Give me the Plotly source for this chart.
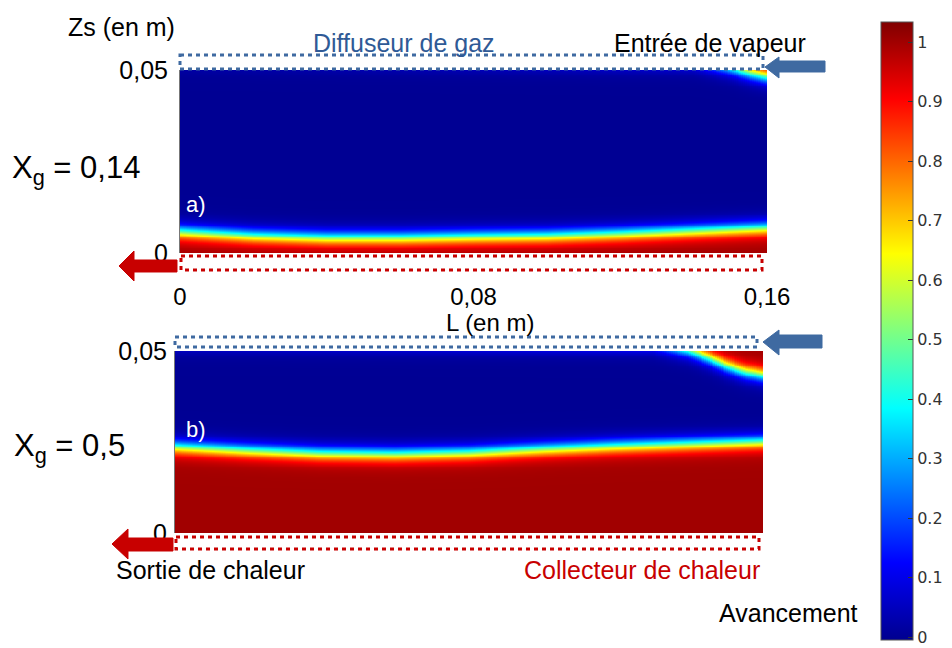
import numpy as np
import plotly.graph_objects as go

# ---------------- data ----------------
L_samples = [0.0, 0.02, 0.04, 0.06, 0.08, 0.10, 0.12, 0.14, 0.16]          # m
# height (m) of the reaction front (Avancement = 0.5) above the heat collector
front_a = [0.0057, 0.0046, 0.0041, 0.0041, 0.0044, 0.0046, 0.0052, 0.0060, 0.0068]
front_b = [0.0236, 0.0226, 0.0218, 0.0216, 0.0220, 0.0230, 0.0238, 0.0244, 0.0250]
# front coming from the vapour inlet (top right corner)
Ltop_a = [0.0, 0.14, 0.15, 0.155, 0.16]
ztop_a = [0.0545, 0.0530, 0.0508, 0.0493, 0.0482]
Ltop_b = [0.0, 0.13, 0.14, 0.145, 0.15, 0.155, 0.16]
ztop_b = [0.0535, 0.0525, 0.0502, 0.0482, 0.0460, 0.0443, 0.0434]
front_width = 0.0012   # m, thickness of the reaction zone

x_tick_vals = [0.0, 0.08, 0.16]
x_tick_labels = ["0", "0,08", "0,16"]
y_tick_vals = [0.0, 0.05]
y_tick_labels = ["0", "0,05"]
cb_tick_vals = [0, 0.1, 0.2, 0.3, 0.4, 0.5, 0.6, 0.7, 0.8, 0.9, 1]
cb_tick_labels = ["0", "0.1", "0.2", "0.3", "0.4", "0.5", "0.6", "0.7", "0.8", "0.9", "1"]

# ---------------- field built from the read fronts ----------------
NX, NY = 320, 200
Lc = (np.arange(NX) + 0.5) * 0.16 / NX
Zc = (np.arange(NY) + 0.5) * 0.05 / NY


def field(front, Ltop, ztop):
    zb = np.interp(Lc, L_samples, front)
    zt = np.interp(Lc, Ltop, ztop)
    Z = Zc[:, None]
    a = 1.0 / (1.0 + np.exp((Z - zb[None, :]) / front_width))
    b = 1.0 / (1.0 + np.exp((zt[None, :] - Z) / front_width))
    return np.maximum(a, b)


za = field(front_a, Ltop_a, ztop_a)
zb = field(front_b, Ltop_b, ztop_b)

W, H = 952, 648


def PX(x):
    return x / W


def PY(y):
    return 1 - y / H


jet = [[0, "#00008f"], [0.125, "#0000ff"], [0.375, "#00ffff"],
       [0.625, "#ffff00"], [0.875, "#ff0000"], [1, "#800000"]]

fig = go.Figure()
fig.add_trace(go.Heatmap(x=Lc, y=Zc, z=za, coloraxis="coloraxis",
                         xaxis="x", yaxis="y", hoverinfo="skip"))
fig.add_trace(go.Heatmap(x=Lc, y=Zc, z=zb, coloraxis="coloraxis",
                         xaxis="x2", yaxis="y2", hoverinfo="skip"))

FONT = "Liberation Sans, Arial, sans-serif"
tickfont = dict(family=FONT, size=25, color="black")
xtickfont = dict(family=FONT, size=24, color="black")

fig.update_layout(
    width=W, height=H,
    margin=dict(l=0, r=0, t=0, b=0, autoexpand=False),
    paper_bgcolor="white", plot_bgcolor="white",
    showlegend=False,
    xaxis=dict(domain=[PX(180), PX(767)], range=[0, 0.16], anchor="y",
               tickvals=x_tick_vals, ticktext=x_tick_labels, tickfont=xtickfont,
               showgrid=False, zeroline=False, ticks="", ticklabelstandoff=27,
               automargin=False),
    yaxis=dict(domain=[PY(253), PY(70)], range=[0, 0.05], anchor="x",
               tickvals=y_tick_vals, ticktext=y_tick_labels, tickfont=tickfont,
               showgrid=False, zeroline=False, ticks="", ticklabelstandoff=6,
               showline=True, linecolor="#777", linewidth=1, automargin=False),
    xaxis2=dict(domain=[PX(175), PX(763)], range=[0, 0.16], anchor="y2",
                showticklabels=False, showgrid=False, zeroline=False, ticks="",
                automargin=False),
    yaxis2=dict(domain=[PY(533), PY(351)], range=[0, 0.05], anchor="x2",
                tickvals=y_tick_vals, ticktext=y_tick_labels, tickfont=tickfont,
                showgrid=False, zeroline=False, ticks="", ticklabelstandoff=2,
                showline=True, linecolor="#777", linewidth=1, automargin=False),
    coloraxis=dict(
        colorscale=jet, cmin=-0.005, cmax=1.034,
        colorbar=dict(
            x=PX(881), xanchor="left", xpad=0, ypad=0,
            y=PY(331), yanchor="middle",
            thickness=32, thicknessmode="pixels",
            len=618, lenmode="pixels",
            outlinewidth=1, outlinecolor="#555",
            ticks="inside", ticklen=5, tickcolor="#333", tickwidth=1,
            tickvals=cb_tick_vals, ticktext=cb_tick_labels,
            tickfont=dict(family="DejaVu Sans", size=16, color="#333"),
        ),
    ),
)

BLUE = "#3f6aa1"
RED = "#c80000"


def text(t, x, y, size=25, color="black", xanchor="center"):
    fig.add_annotation(text=t, x=PX(x), y=PY(y), xref="paper", yref="paper",
                       xanchor=xanchor, yanchor="middle", showarrow=False,
                       font=dict(family=FONT, size=size, color=color))


text("Zs (en m)", 121, 27)
text("Diffuseur de gaz", 404, 43, color="#2f5a96")
text("Entrée de vapeur", 710, 43)
text("X<sub>g</sub> = 0,14", 76, 170, size=31)
text("a)", 196, 205, size=22, color="white")
text("L (en m)", 490, 322, size=24)
text("X<sub>g</sub> = 0,5", 69, 448, size=31)
text("b)", 196, 430, size=22, color="white")
text("Sortie de chaleur", 210, 570)
text("Collecteur de chaleur", 642, 570, color=RED)
text("Avancement", 788, 613)


def rect(x0, y0, x1, y1, color):
    fig.add_shape(type="rect", xref="paper", yref="paper",
                  x0=PX(x0), x1=PX(x1), y0=PY(y0), y1=PY(y1),
                  line=dict(color=color, width=3, dash="4px,4px"),
                  fillcolor="rgba(0,0,0,0)")


rect(180, 55, 763, 69, BLUE)
rect(181, 256, 762, 270, RED)
rect(175, 337, 757, 347, BLUE)
rect(176, 537, 759, 549, RED)


def arrow(tip_x, tip_y, base_x, tail_x, head_top, head_bot, sh_top, sh_bot, color):
    pts = [(tip_x, tip_y), (base_x, head_top), (base_x, sh_top), (tail_x, sh_top),
           (tail_x, sh_bot), (base_x, sh_bot), (base_x, head_bot)]
    path = "M " + " L ".join(f"{PX(a):.5f},{PY(b):.5f}" for a, b in pts) + " Z"
    fig.add_shape(type="path", path=path, xref="paper", yref="paper",
                  fillcolor=color, line=dict(color=color, width=1))


arrow(765, 67, 779, 825, 57, 78, 61, 72, BLUE)
arrow(763, 342, 779, 822, 330, 355, 335, 348, BLUE)
arrow(119, 266, 134, 177, 251, 281, 260, 272, RED)
arrow(112, 544, 128, 173, 529, 559, 538, 551, RED)

fig.write_html("out.html",
               config={"displayModeBar": False},
               post_script="document.body.style.margin='0px';"
                           "document.body.style.overflow='hidden';")
